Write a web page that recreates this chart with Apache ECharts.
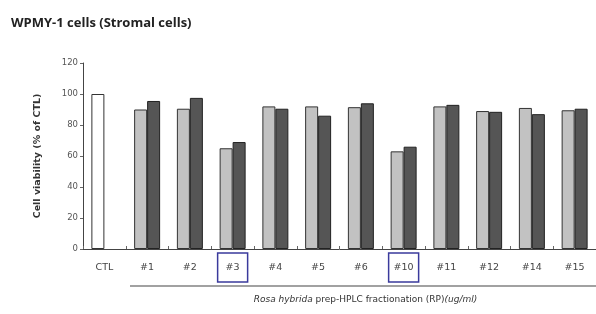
<!DOCTYPE html>
<html>
<head>
<meta charset="utf-8">
<script src="https://cdn.jsdelivr.net/npm/echarts@6/dist/echarts.min.js"></script>
<style>
  html, body { margin: 0; padding: 0; background: #fff; }
  #chart { width: 596px; height: 314px; }
</style>
</head>
<body>
<div id="chart"></div>
<script>
// categories and values
const categories = ['CTL', '#1', '#2', '#3', '#4', '#5', '#6', '#10', '#11', '#12', '#14', '#15'];
const lowDose  = [100, 90, 90.5, 65, 92, 92, 91.5, 63, 92, 89, 91, 89.5];
const highDose = [null, 95.5, 97.5, 69, 90.5, 86, 94, 66, 93, 88.5, 87, 90.5];
const yTicks = [0, 20, 40, 60, 80, 100, 120];
const boxed = ['#3', '#10'];

const chart = echarts.init(document.getElementById('chart'));

const labelBase = {
    fontFamily: 'DejaVu Sans', fontSize: 9.5, color: '#444',
    width: 30, height: 29, align: 'center', verticalAlign: 'middle'
};

const option = {
    animation: false,
    title: {
        text: 'WPMY-1 cells (Stromal cells)',
        left: 6, top: 12,
        textStyle: { fontFamily: 'Open Sans', fontWeight: 'bold', fontSize: 13, color: '#222' }
    },
    grid: { left: 83, right: -4, top: 63, bottom: 65 },
    xAxis: {
        type: 'category',
        data: categories,
        axisLine: { lineStyle: { color: '#444', width: 1 } },
        axisTick: { show: true, length: 3, inside: true, interval: 0, lineStyle: { color: '#666' } },
        axisLabel: {
            interval: 0,
            margin: 4,
            formatter: v => boxed.includes(v) ? '{box|' + v + '}' : '{n|' + v + '}',
            rich: {
                n: labelBase,
                box: Object.assign({}, labelBase, { borderColor: '#3a3a9c', borderWidth: 1.5 })
            }
        },
        name: '{i|Rosa hybrida} prep-HPLC fractionation (RP){i|(ug/ml)}',
        nameLocation: 'middle',
        nameGap: 46,
        nameTextStyle: {
            fontFamily: 'DejaVu Sans', fontSize: 9, color: '#333',
            padding: [0, 0, 0, 52],
            rich: { i: { fontFamily: 'DejaVu Sans', fontSize: 9, fontStyle: 'italic', color: '#333' } }
        }
    },
    yAxis: {
        type: 'value',
        min: yTicks[0], max: yTicks[yTicks.length - 1], interval: 20,
        axisLine: { show: true, lineStyle: { color: '#444' } },
        axisTick: { show: true, length: 3, lineStyle: { color: '#666' } },
        splitLine: { show: false },
        axisLabel: { fontFamily: 'DejaVu Sans', fontSize: 8.5, color: '#555', margin: 5 },
        name: 'Cell viability (% of CTL)',
        nameLocation: 'middle',
        nameGap: 40,
        nameTextStyle: { fontFamily: 'DejaVu Sans', fontWeight: 'bold', fontSize: 9.5, color: '#333' }
    },
    graphic: [{
        type: 'line',
        shape: { x1: 130, y1: 286, x2: 596, y2: 286 },
        style: { stroke: '#444', lineWidth: 1.2 }
    }],
    series: [{
        type: 'bar',
        data: lowDose.map((v, i) => i === 0
            ? { value: v, itemStyle: { color: '#ffffff' } }
            : v),
        barWidth: 13,
        barGap: '-0.01%',
        itemStyle: { color: '#c2c2c2', borderColor: '#333', borderWidth: 1 }
    }, {
        type: 'bar',
        data: highDose,
        barWidth: 13,
        barGap: '-0.01%',
        itemStyle: { color: '#555555', borderColor: '#222', borderWidth: 1 }
    }]
};

chart.setOption(option);
</script>
</body>
</html>
